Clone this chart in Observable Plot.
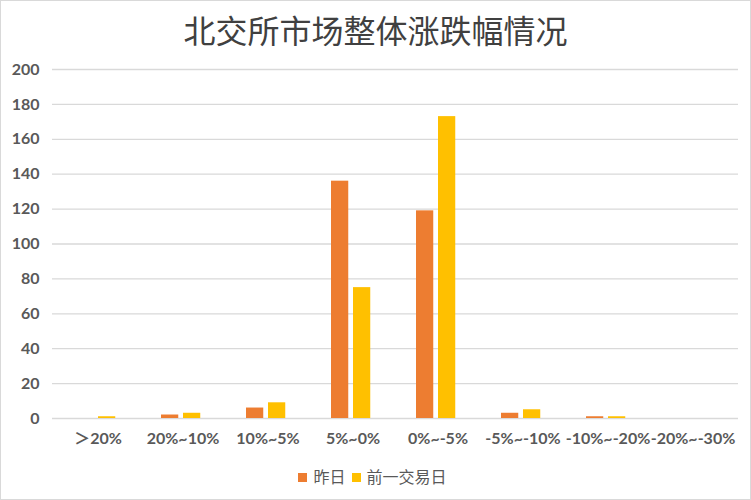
<!DOCTYPE html>
<html><head><meta charset="utf-8">
<script src="https://cdn.jsdelivr.net/npm/d3@7"></script>
<script src="https://cdn.jsdelivr.net/npm/@observablehq/plot@0.6"></script>
<style>
html,body{margin:0;padding:0;background:#fff;}
#wrap{width:749px;height:498px;border:1px solid #d9d9d9;position:relative;overflow:hidden;background:#fff;}
#title{height:55px;line-height:56px;text-align:center;font-family:"Noto Sans CJK SC",sans-serif;font-size:32px;color:#404040;}
#legend{position:absolute;left:0;right:0;top:463px;text-align:center;font-family:"Noto Sans CJK SC",sans-serif;font-size:16px;color:#595959;}
#legend span.sw{display:inline-block;width:9px;height:9px;margin-right:6px;vertical-align:middle;position:relative;top:-1px;}
#legend span.it{margin-right:6px;}
</style></head>
<body><div id="wrap"><div id="title">北交所市场整体涨跌幅情况</div><div id="chart"></div><div id="legend"></div></div>
<script>
const categories = ["＞20%", "20%~10%", "10%~5%", "5%~0%", "0%~-5%", "-5%~-10%", "-10%~-20%", "-20%~-30%"];
const seriesNames = ["昨日", "前一交易日"];
const yesterday = [0, 2, 6, 136, 119, 3, 1, 0];
const prevDay = [1, 3, 9, 75, 173, 5, 1, 0];
const yTicks = [0, 20, 40, 60, 80, 100, 120, 140, 160, 180, 200];
const colors = ["#ED7D31", "#FFC000"];

const d1 = categories.map((c, i) => ({cat: c, v: yesterday[i]}));
const d2 = categories.map((c, i) => ({cat: c, v: prevDay[i]}));

const chart = Plot.plot({
  width: 749,
  height: 400,
  marginLeft: 51,
  marginRight: 12,
  marginTop: 13,
  marginBottom: 38,
  style: {fontFamily: "Lato, 'Noto Sans CJK SC', sans-serif", fontSize: "16px", color: "#595959", background: "#fff"},
  x: {domain: categories, padding: 0, label: null, tickSize: 0, tickPadding: 14},
  y: {domain: [0, 200], ticks: yTicks, label: null, tickSize: 0, tickPadding: 13},
  marks: [
    Plot.ruleY(yTicks.filter(t => t > 0), {stroke: "#d9d9d9", strokeWidth: 1.3}),
    Plot.ruleY([0], {stroke: "#d9d9d9", strokeWidth: 1.3}),
    Plot.barY(d1, {x: "cat", y: "v", fill: colors[0], insetLeft: 21, insetRight: 46.75}),
    Plot.barY(d2, {x: "cat", y: "v", fill: colors[1], insetLeft: 43, insetRight: 24.75})
  ]
});
chart.querySelectorAll("g[aria-label='x-axis tick label'] text, g[aria-label='y-axis tick label'] text").forEach(t => {
  t.setAttribute("font-weight", "bold");
});
document.getElementById("chart").appendChild(chart);

const lg = document.getElementById("legend");
seriesNames.forEach((n, i) => {
  const sw = document.createElement("span"); sw.className = "sw"; sw.style.background = colors[i];
  const tx = document.createElement("span"); tx.className = "it"; tx.textContent = n;
  lg.appendChild(sw); lg.appendChild(tx);
});
</script></body></html>
